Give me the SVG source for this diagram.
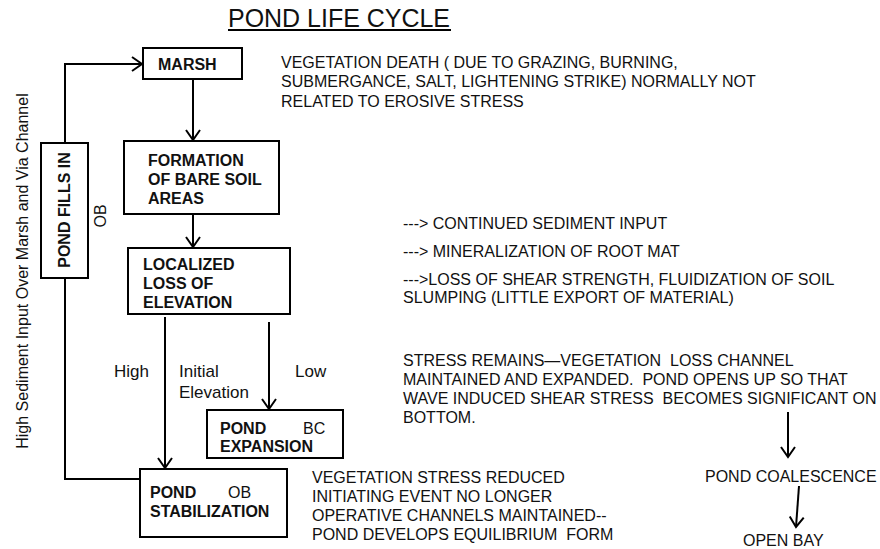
<svg xmlns="http://www.w3.org/2000/svg" width="880" height="549" viewBox="0 0 880 549">
<style>
  .box{fill:#fff;stroke:#000;stroke-width:2}
  .lbl{font-family:"Liberation Sans",Arial,sans-serif;font-size:16px;font-weight:bold;fill:#111}
  .txt{font-family:"Liberation Sans",Arial,sans-serif;font-size:16px;fill:#111}
  .sm{font-family:"Liberation Sans",Arial,sans-serif;font-size:17px;fill:#111}
  .ln{fill:none;stroke:#000;stroke-width:2}
</style>
<defs>
  <marker id="arr" markerUnits="userSpaceOnUse" markerWidth="20" markerHeight="20" refX="11" refY="8" orient="auto">
    <path d="M1,1 L11,8 L1,15" fill="none" stroke="#000" stroke-width="2"/>
  </marker>
</defs>
<rect width="880" height="549" fill="#fff"/>
<text x="228" y="27" font-family="Liberation Sans,Arial,sans-serif" font-size="25" fill="#111" textLength="222" lengthAdjust="spacingAndGlyphs">POND LIFE CYCLE</text>
<line x1="228" y1="30" x2="451" y2="30" stroke="#000" stroke-width="2"/>

<g id="connectors">
  <polyline class="ln" points="65,143 65,64 142,64" marker-end="url(#arr)"/>
  <line class="ln" x1="193" y1="79" x2="193" y2="140" marker-end="url(#arr)"/>
  <line class="ln" x1="193" y1="214" x2="193" y2="247" marker-end="url(#arr)"/>
  <line class="ln" x1="165" y1="317" x2="165" y2="468" marker-end="url(#arr)"/>
  <line class="ln" x1="269" y1="322" x2="269" y2="409" marker-end="url(#arr)"/>
  <polyline class="ln" points="65,278 65,479 140,479"/>
  <line class="ln" x1="788" y1="412" x2="788" y2="457" marker-end="url(#arr)"/>
  <line class="ln" x1="799" y1="486" x2="796" y2="527" marker-end="url(#arr)"/>
</g>

<g id="marsh">
  <rect class="box" x="143" y="48" width="99" height="31"/>
  <text class="lbl" x="158" y="70">MARSH</text>
</g>
<g id="formation">
  <rect class="box" x="124" y="141" width="155" height="73"/>
  <text class="lbl" x="148" y="166">FORMATION</text>
  <text class="lbl" x="148" y="185">OF BARE SOIL</text>
  <text class="lbl" x="148" y="204">AREAS</text>
</g>
<g id="localized">
  <rect class="box" x="128" y="248" width="162" height="66"/>
  <text class="lbl" x="143" y="270">LOCALIZED</text>
  <text class="lbl" x="143" y="289">LOSS OF</text>
  <text class="lbl" x="143" y="308">ELEVATION</text>
</g>
<g id="pond-fills">
  <rect class="box" x="41" y="143" width="47" height="135"/>
  <text class="lbl" transform="translate(70,210) rotate(-90)" text-anchor="middle">POND FILLS IN</text>
  <text class="txt" transform="translate(106,216) rotate(-90)" text-anchor="middle">OB</text>
</g>
<g id="expansion">
  <rect class="box" x="207" y="410" width="136" height="48"/>
  <text class="lbl" x="220" y="434">POND</text>
  <text class="txt" x="303" y="434">BC</text>
  <text class="lbl" x="220" y="452">EXPANSION</text>
</g>
<g id="stabilization">
  <rect class="box" x="140" y="469" width="147" height="68"/>
  <text class="lbl" x="150" y="498">POND</text>
  <text class="txt" x="228" y="498">OB</text>
  <text class="lbl" x="150" y="517">STABILIZATION</text>
</g>
<g id="pond-coalescence">
  <text class="txt" x="705" y="482">POND COALESCENCE</text>
</g>
<g id="open-bay">
  <text class="txt" x="743" y="546">OPEN BAY</text>
</g>

<text class="txt" transform="translate(28,271) rotate(-90)" text-anchor="middle">High Sediment Input Over Marsh and Via Channel</text>

<text class="sm" x="114" y="377">High</text>
<text class="sm" x="179" y="377">Initial</text>
<text class="sm" x="179" y="398">Elevation</text>
<text class="sm" x="295" y="377">Low</text>

<text class="txt" x="281" y="68">VEGETATION DEATH ( DUE TO GRAZING, BURNING,</text>
<text class="txt" x="281" y="87">SUBMERGANCE, SALT, LIGHTENING STRIKE) NORMALLY NOT</text>
<text class="txt" x="281" y="107">RELATED TO EROSIVE STRESS</text>

<text class="txt" x="403" y="229">---&gt; CONTINUED SEDIMENT INPUT</text>
<text class="txt" x="403" y="257">---&gt; MINERALIZATION OF ROOT MAT</text>
<text class="txt" x="403" y="285">---&gt;LOSS OF SHEAR STRENGTH, FLUIDIZATION OF SOIL</text>
<text class="txt" x="403" y="303">SLUMPING (LITTLE EXPORT OF MATERIAL)</text>

<text class="txt" x="403" y="366" xml:space="preserve">STRESS REMAINS—VEGETATION  LOSS CHANNEL</text>
<text class="txt" x="403" y="385" xml:space="preserve">MAINTAINED AND EXPANDED.  POND OPENS UP SO THAT</text>
<text class="txt" x="403" y="404" xml:space="preserve">WAVE INDUCED SHEAR STRESS  BECOMES SIGNIFICANT ON</text>
<text class="txt" x="403" y="423">BOTTOM.</text>

<text class="txt" x="312" y="483">VEGETATION STRESS REDUCED</text>
<text class="txt" x="312" y="502">INITIATING EVENT NO LONGER</text>
<text class="txt" x="312" y="521">OPERATIVE CHANNELS MAINTAINED--</text>
<text class="txt" x="312" y="540" xml:space="preserve">POND DEVELOPS EQUILIBRIUM  FORM</text>
</svg>
